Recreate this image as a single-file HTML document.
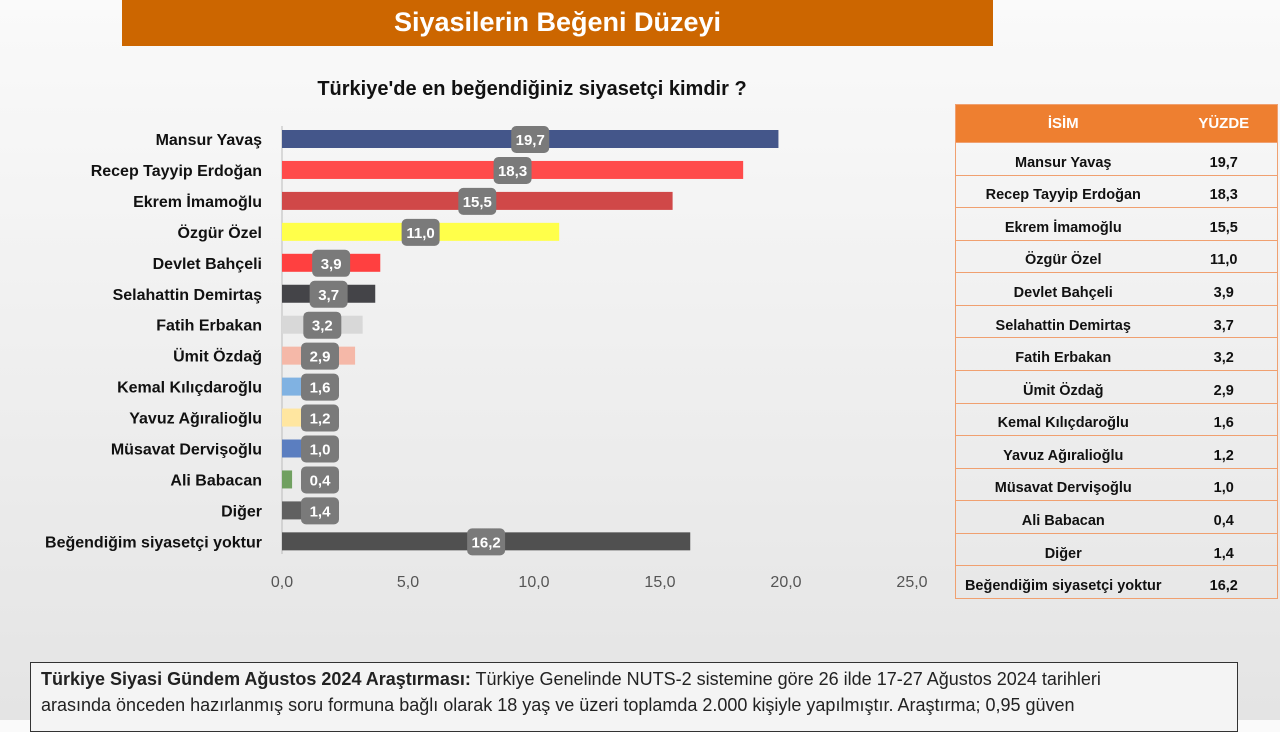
<!DOCTYPE html>
<html><head><meta charset="utf-8"><style>
body{margin:0;width:1280px;height:720px;overflow:hidden;background:linear-gradient(#fafafa,#e4e4e4);font-family:"Liberation Sans",sans-serif;position:relative}
.ban{position:absolute;left:122px;top:0;width:871px;height:46px;background:#cc6600;color:#fff;font-weight:bold;font-size:27px;text-align:center;line-height:44px}
.q{position:absolute;left:282px;top:78px;width:500px;font-weight:bold;font-size:20px;color:#111;text-align:center}
#tbl{position:absolute;left:955px;top:104px;width:323px;border-collapse:collapse;font-weight:bold;font-size:14.5px;color:#111;border:1.5px solid #f0a070}
#tbl th{background:#ee7f30;color:#fff;height:37px;font-size:15px;padding:0}
#tbl tr.r{height:32.57px}
#tbl td{border-top:1.5px solid #f0a070;text-align:center;padding:8px 0 0 0;box-sizing:border-box}
.foot{position:absolute;left:30px;top:662px;width:1208px;height:70px;border:1.5px solid #333;background:#f4f4f4;font-size:18px;line-height:26px;padding:3px 10px;box-sizing:border-box;color:#222;white-space:nowrap}
</style></head><body>
<div class="ban">Siyasilerin Beğeni Düzeyi</div>
<div class="q">Türkiye'de en beğendiğiniz siyasetçi kimdir ?</div>
<svg id="ch" width="940" height="600" style="position:absolute;left:0;top:0"></svg>
<table id="tbl"><tr><th>İSİM</th><th>YÜZDE</th></tr></table>
<div class="foot"><b>Türkiye Siyasi Gündem Ağustos 2024 Araştırması:</b> Türkiye Genelinde NUTS-2 sistemine göre 26 ilde 17-27 Ağustos 2024 tarihleri<br>arasında önceden hazırlanmış soru formuna bağlı olarak 18 yaş ve üzeri toplamda 2.000 kişiyle yapılmıştır. Araştırma; 0,95 güven</div>
<script>
const names=["Mansur Yavaş","Recep Tayyip Erdoğan","Ekrem İmamoğlu","Özgür Özel","Devlet Bahçeli","Selahattin Demirtaş","Fatih Erbakan","Ümit Özdağ","Kemal Kılıçdaroğlu","Yavuz Ağıralioğlu","Müsavat Dervişoğlu","Ali Babacan","Diğer","Beğendiğim siyasetçi yoktur"];
const values=[19.7,18.3,15.5,11.0,3.9,3.7,3.2,2.9,1.6,1.2,1.0,0.4,1.4,16.2];
const colors=["#44568a","#ff4b4b","#d04848","#ffff4a","#ff4040","#444448","#d8d8d8","#f5b8a8","#80b2e2","#ffe6a0","#5b7ec0","#70a060","#606060","#505050"];
const ticks=[0,5,10,15,20,25];
const NS="http://www.w3.org/2000/svg",svg=document.getElementById('ch');
const x=v=>282+v*25.2, y=i=>139+i*30.95;
function mk(t,a){const e=document.createElementNS(NS,t);for(const k in a)e.setAttribute(k,a[k]);svg.appendChild(e);return e;}
const ax=mk('line',{x1:282,x2:282,y1:126,y2:554,stroke:'#bbb'});


ticks.forEach(t=>{const e=mk('text',{x:x(t),y:587,'text-anchor':'middle','font-size':16,fill:'#555','font-family':'Liberation Sans'});e.textContent=t.toFixed(1).replace('.',',');

});
names.forEach((n,i)=>{
const l=mk('text',{x:262,y:y(i)+6,'text-anchor':'end','font-size':16,'font-weight':'bold',fill:'#111','font-family':'Liberation Sans'});l.textContent=n;


const b=mk('rect',{x:282,y:y(i)-9,width:x(values[i])-282,height:18,fill:colors[i]});


const cx=Math.max((282+x(values[i]))/2,320);
const r=mk('rect',{x:cx-19,y:y(i)-13,width:38,height:27,rx:5,fill:'#7a7a7a'});


const t=mk('text',{x:cx,y:y(i)+6,'text-anchor':'middle','font-size':15,'font-weight':'bold',fill:'#fff','font-family':'Liberation Sans'});t.textContent=values[i].toFixed(1).replace('.',',');


const tr=document.createElement('tr');
tr.className='r';


tr.innerHTML='<td style="width:215px">'+n+'</td><td>'+values[i].toFixed(1).replace('.',',')+'</td>';
document.getElementById('tbl').appendChild(tr);
});
</script>
</body></html>
